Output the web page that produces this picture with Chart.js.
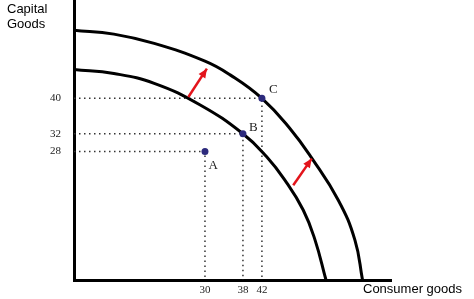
<!DOCTYPE html>
<html>
<head>
<meta charset="utf-8">
<script src="https://cdn.jsdelivr.net/npm/chart.js@4.4.1/dist/chart.umd.min.js"></script>
<style>
  html, body { margin: 0; padding: 0; background: #fff; }
  #wrap { width: 474px; height: 299px; }
</style>
</head>
<body>
<div id="wrap"><canvas id="ppfChart" width="474" height="299"></canvas></div>
<script>
// --------------------- Data ---------------------
const xTicks = [30, 38, 42];
const yTicks = [28, 32, 40];

const pointNames = ["A", "B", "C"];
const pointX = [30, 38, 42];
const pointY = [28, 32, 40];

// frontier curves
const innerX = [2.4, 10.8, 19.3, 29.0, 38, 43.0, 46.8, 50.7, 53.2, 55.5];
const innerY = [46.5, 45.6, 43.4, 38.5, 32, 26.8, 21.6, 14.8, 8.0, -1];
const outerX = [2.4, 10.8, 19.3, 30.0, 35.3, 42, 47.9, 52.5, 58.1, 61.6, 63.2];
const outerY = [55.4, 54.5, 52.4, 48.4, 45.3, 40, 33.2, 26.5, 17.0, 8.0, -1];

// shift arrows
const arrowFromX = [26.5, 48.6];
const arrowFromY = [40.3, 20.4];
const arrowToX = [30.4, 52.5];
const arrowToY = [46.7, 26.4];

const xMin = 2.4, xMax = 69.2;
const yMin = -1, yMax = 62.2;

const serif = "'Liberation Serif', 'Times New Roman', serif";
const sans = "'Liberation Sans', Arial, sans-serif";
const red = "#e3141b";

// --------------------- Datasets ---------------------
const toXY = (xs, ys) => xs.map((x, i) => ({ x: x, y: ys[i] }));

const datasets = [];

datasets.push({
  label: "points",
  data: toXY(pointX, pointY),
  showLine: false,
  pointRadius: 3.5,
  pointBackgroundColor: "#2c2a7c",
  pointBorderWidth: 0
});

arrowFromX.forEach((x, i) => {
  datasets.push({
    label: "arrow" + i,
    data: [{ x: x, y: arrowFromY[i] }, { x: arrowToX[i], y: arrowToY[i] }],
    borderColor: red,
    borderWidth: 2.5,
    pointRadius: 0,
    tension: 0
  });
});

datasets.push({
  label: "inner",
  data: toXY(innerX, innerY),
  borderColor: "#000",
  borderWidth: 3,
  pointRadius: 0,
  tension: 0.45
});

datasets.push({
  label: "outer",
  data: toXY(outerX, outerY),
  borderColor: "#000",
  borderWidth: 3,
  pointRadius: 0,
  tension: 0.45
});

pointX.forEach((x, i) => {
  datasets.push({
    label: "guide" + i,
    data: [{ x: xMin, y: pointY[i] }, { x: x, y: pointY[i] }, { x: x, y: yMin }],
    borderColor: "#333",
    borderWidth: 1.5,
    borderDash: [1.5, 3.5],
    pointRadius: 0,
    tension: 0
  });
});

// --------------------- Extras: arrow heads and texts ---------------------
const extras = {
  id: "extras",
  afterDatasetsDraw(chart) {
    const ctx = chart.ctx;
    const xs = chart.scales.x, ys = chart.scales.y;

    // arrow heads
    arrowToX.forEach((x, i) => {
      const x1 = xs.getPixelForValue(arrowFromX[i]), y1 = ys.getPixelForValue(arrowFromY[i]);
      const x2 = xs.getPixelForValue(x), y2 = ys.getPixelForValue(arrowToY[i]);
      const a = Math.atan2(y2 - y1, x2 - x1);
      ctx.save();
      ctx.fillStyle = red;
      ctx.beginPath();
      ctx.moveTo(x2, y2);
      ctx.lineTo(x2 - 9 * Math.cos(a) + 4 * Math.sin(a), y2 - 9 * Math.sin(a) - 4 * Math.cos(a));
      ctx.lineTo(x2 - 9 * Math.cos(a) - 4 * Math.sin(a), y2 - 9 * Math.sin(a) + 4 * Math.cos(a));
      ctx.closePath();
      ctx.fill();
      ctx.restore();
    });

    // point letters
    const offsets = [[3.5, 17], [6, -3], [7, -5]];
    ctx.save();
    ctx.fillStyle = "#222";
    ctx.font = "13px " + serif;
    ctx.textAlign = "left";
    ctx.textBaseline = "alphabetic";
    pointNames.forEach((name, i) => {
      const px = xs.getPixelForValue(pointX[i]), py = ys.getPixelForValue(pointY[i]);
      ctx.fillText(name, px + offsets[i][0], py + offsets[i][1]);
    });

    // axis titles
    ctx.fillStyle = "#000";
    ctx.font = "13px " + sans;
    ctx.fillText("Capital", 7, 13);
    ctx.fillText("Goods", 7, 28);
    ctx.fillText("Consumer goods", 363, 293);
    ctx.restore();
  }
};

// --------------------- Chart ---------------------
new Chart(document.getElementById("ppfChart"), {
  type: "line",
  data: { datasets: datasets },
  options: {
    responsive: false,
    animation: false,
    devicePixelRatio: 1,
    layout: { autoPadding: false, padding: { left: 0, top: 0, right: 83, bottom: 0 } },
    plugins: { legend: { display: false }, tooltip: { enabled: false } },
    scales: {
      x: {
        type: "linear",
        min: xMin,
        max: xMax,
        grid: { display: false, drawTicks: false, tickLength: 0 },
        border: { display: true, color: "#000", width: 3 },
        ticks: { padding: 4, color: "#222", font: { family: serif, size: 11 }, callback: v => String(v) },
        afterBuildTicks: s => { s.ticks = xTicks.map(v => ({ value: v })); },
        afterFit: s => { s.height = 19; s.paddingLeft = 0; s.paddingRight = 0; }
      },
      y: {
        type: "linear",
        min: yMin,
        max: yMax,
        grid: { display: false, drawTicks: false, tickLength: 0 },
        border: { display: true, color: "#000", width: 3 },
        ticks: { padding: 13, color: "#222", font: { family: serif, size: 11 }, callback: v => String(v) },
        afterBuildTicks: s => { s.ticks = yTicks.map(v => ({ value: v })); },
        afterFit: s => { s.width = 74; s.paddingTop = 0; s.paddingBottom = 0; }
      }
    }
  },
  plugins: [extras]
});
</script>
</body>
</html>
